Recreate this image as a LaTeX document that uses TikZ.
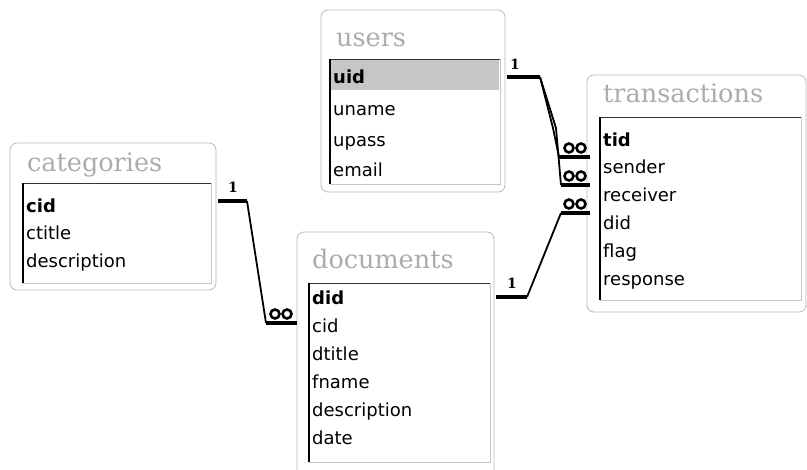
\documentclass[tikz,border=0pt]{standalone}
\usepackage{fontspec}
\setmainfont{DejaVu Sans}
\newfontfamily\titlefont{DejaVu Serif}
\newfontfamily\onefont{DejaVu Serif}
\tikzset{
  outerbox/.style={draw=gray!55, line width=0.8pt, rounded corners=7pt},
  ttl/.style={anchor=base west, inner sep=0pt, text=gray!65, font=\titlefont\fontsize{25.5}{27}\selectfont},
  fld/.style={anchor=base west, inner sep=0pt, font=\fontsize{18}{20}\selectfont},
  keyfld/.style={anchor=base west, inner sep=0pt, font=\bfseries\fontsize{18}{20}\selectfont},
  listtop/.style={draw=black!80, line width=0.9pt},
  listleft/.style={draw=black, line width=1.8pt},
  listrest/.style={draw=gray!45, line width=0.6pt},
  stub/.style={line width=4pt},
  link/.style={line width=1.8pt},
  onelbl/.style={font=\onefont\bfseries\fontsize{14}{14}\selectfont, inner sep=0pt},
  many/.style={line width=2.6pt},
}
\begin{document}
\begin{tikzpicture}[x=1pt,y=-1pt]
\useasboundingbox (0,0) rectangle (807,470);
\fill[white] (0,0) rectangle (807,470);

% ---------- users ----------
\draw[outerbox] (321,10) rectangle (505,192);
\node[ttl] (usersT) at (336,47) {users};
\fill[gray!45] (330,60) rectangle (499,90);
\draw[listtop] (329,59) -- (500,59);
\draw[listrest] (500,59) -- (500,184) -- (330,184);
\draw[listleft] (330,59) -- (330,184);
\node[keyfld] (uid) at (333,83.5) {uid};
\node[fld] (uname) at (333,115.5) {uname};
\node[fld] (upass) at (333,146.5) {upass};
\node[fld] (email) at (333,176.5) {email};

% ---------- transactions ----------
\draw[outerbox] (587,75) rectangle (806,312);
\node[ttl] (transT) at (603,103) {transactions};
\draw[listtop] (599,117) -- (801,117);
\draw[listrest] (801,117) -- (801,300) -- (600,300);
\draw[listleft] (600,117) -- (600,300);
\node[keyfld] (tid) at (603,146.5) {tid};
\node[fld] (sender) at (603,173.5) {sender};
\node[fld] (receiver) at (603,201.5) {receiver};
\node[fld] (tdid) at (603,229.5) {did};
\node[fld] (flag) at (603,257.5) {flag};
\node[fld] (response) at (603,285.5) {response};

% ---------- categories ----------
\draw[outerbox] (10,143) rectangle (216,290);
\node[ttl] (catT) at (27,172) {categories};
\draw[listtop] (22,183) -- (211,183);
\draw[listrest] (211,183) -- (211,283) -- (23,283);
\draw[listleft] (23,183) -- (23,283);
\node[keyfld] (cid) at (26,212.5) {cid};
\node[fld] (ctitle) at (26,239.5) {ctitle};
\node[fld] (cdesc) at (26,267.5) {description};

% ---------- documents ----------
\draw[outerbox] (297,232) rectangle (494,480);
\node[ttl] (docT) at (312,269) {documents};
\draw[listtop] (308,283) -- (490,283);
\draw[listrest] (490,283) -- (490,462) -- (309,462);
\draw[listleft] (309,283) -- (309,462);
\node[keyfld] (did) at (312,304.5) {did};
\node[fld] (dcid) at (312,332.5) {cid};
\node[fld] (dtitle) at (312,360.5) {dtitle};
\node[fld] (fname) at (312,388.5) {fname};
\node[fld] (ddesc) at (312,416.5) {description};
\node[fld] (date) at (312,444.5) {date};

% ---------- relationship: users.uid -> transactions.sender / receiver ----------
\coordinate (u1) at (507,77);
\coordinate (u2) at (540,77);
\coordinate (ua) at (553,128);
\coordinate (ub) at (556,128);
\coordinate (s1) at (559,157);
\coordinate (s2) at (590,157);
\coordinate (r1) at (561,185);
\coordinate (r2) at (590,185);
\draw[stub] (u1) -- (u2);
\draw[link] (u2) -- (ua) -- (s1);
\draw[link] (u2) -- (ub) -- (r1);
\draw[stub] (s1) -- (s2);
\draw[stub] (r1) -- (r2);
\node[onelbl] (one1) at (515,64) {1};
\coordinate (m1) at (575,148);
\coordinate (m2) at (575,176);
\draw[many] ([xshift=-6pt]m1) circle (4.5pt) ([xshift=6pt]m1) circle (4.5pt);
\draw[many] ([xshift=-6pt]m2) circle (4.5pt) ([xshift=6pt]m2) circle (4.5pt);

% ---------- relationship: documents.did -> transactions.did ----------
\coordinate (d1) at (496,297);
\coordinate (d2) at (527,297);
\coordinate (t1) at (561,213);
\coordinate (t2) at (590,213);
\draw[stub] (d1) -- (d2);
\draw[link] (d2) -- (t1);
\draw[stub] (t1) -- (t2);
\node[onelbl] (one2) at (512,283) {1};
\coordinate (m3) at (575,204);
\draw[many] ([xshift=-6pt]m3) circle (4.5pt) ([xshift=6pt]m3) circle (4.5pt);

% ---------- relationship: categories.cid -> documents.cid ----------
\coordinate (c1) at (218,201);
\coordinate (c2) at (247,201);
\coordinate (k1) at (266,323);
\coordinate (k2) at (297,323);
\draw[stub] (c1) -- (c2);
\draw[link] (c2) -- (k1);
\draw[stub] (k1) -- (k2);
\node[onelbl] (one3) at (233,187) {1};
\coordinate (m4) at (281,314);
\draw[many] ([xshift=-6pt]m4) circle (4.5pt) ([xshift=6pt]m4) circle (4.5pt);
\end{tikzpicture}
\end{document}
